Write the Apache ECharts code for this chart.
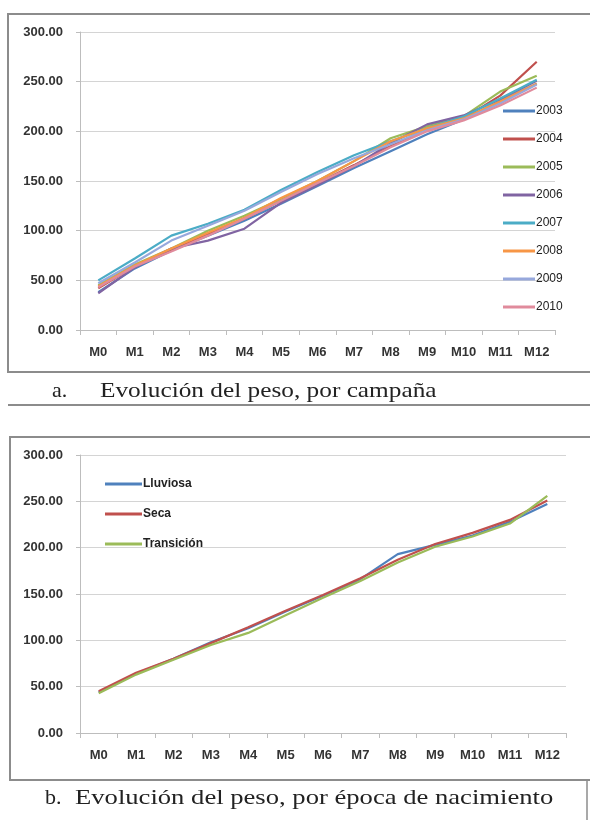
<!DOCTYPE html>
<html>
<head>
<meta charset="utf-8">
<script src="https://cdn.jsdelivr.net/npm/echarts@6/dist/echarts.min.js"></script>
<style>
  html, body { margin: 0; padding: 0; background: #fff; }
  #wrap { position: relative; width: 590px; height: 820px; overflow: hidden; }
  #chart { position: absolute; left: 0; top: 0; width: 590px; height: 820px; }
  .cap { position: absolute; font-family: "Liberation Serif", "Times New Roman", serif; font-size: 22px; color: #222; white-space: nowrap; transform-origin: left center; line-height: 24px; }
</style>
</head>
<body>
<div id="wrap">
  <div id="chart"></div>
  <div class="cap" style="left:52px; top:378px;">a.</div>
  <div class="cap" id="capA" style="left:100px; top:378px; transform: scaleX(1.15);">Evolución del peso, por campaña</div>
  <div class="cap" style="left:45px; top:785px;">b.</div>
  <div class="cap" id="capB" style="left:75px; top:785px; transform: scaleX(1.21);">Evolución del peso, por época de nacimiento</div>
</div>
<script>
// ---- data ----
const months = ['M0','M1','M2','M3','M4','M5','M6','M7','M8','M9','M10','M11','M12'];
const yTicks = [0, 50, 100, 150, 200, 250, 300];

const campaignNames = ['2003','2004','2005','2006','2007','2008','2009','2010'];
const s2003 = [38, 62, 80, 95, 110, 127, 145, 163, 180, 197, 212, 230, 248];
const s2004 = [42, 64, 80, 97, 112, 130, 148, 166, 185, 202, 213, 236, 270];
const s2005 = [45, 66, 82, 100, 115, 132, 150, 170, 193, 205, 215, 240, 256];
const s2006 = [37, 63, 82, 90, 102, 128, 146, 165, 188, 207, 216, 232, 251];
const s2007 = [50, 72, 95, 107, 121, 141, 159, 176, 190, 203, 215, 233, 252];
const s2008 = [44, 65, 82, 98, 113, 133, 150, 170, 190, 203, 213, 230, 248];
const s2009 = [47, 68, 90, 105, 120, 139, 157, 173, 187, 201, 212, 228, 247];
const s2010 = [43, 64, 79, 95, 112, 130, 148, 165, 184, 200, 211, 226, 244];
const campaignData = [s2003, s2004, s2005, s2006, s2007, s2008, s2009, s2010];

const seasonNames = ['Lluviosa','Seca','Transición'];
const lluviosa   = [44, 64, 80, 98, 113, 131, 148, 166, 193, 203, 213, 228, 247];
const seca       = [45, 65, 80, 97, 114, 132, 149, 167, 187, 204, 216, 230, 251];
const transicion = [43, 63, 79, 95, 108, 127, 146, 164, 184, 201, 212, 226, 256];
const seasonData = [lluviosa, seca, transicion];

// ---- styles ----
const campaignColors = ['#4F81BD','#C0504D','#9BBB59','#8064A2','#4BACC6','#F79646','#97A8DC','#E08B9C'];
const seasonColors = ['#4F81BD','#C0504D','#9BBB59'];
const labelFont = { fontFamily: 'Liberation Sans, Arial, sans-serif', fontWeight: 'bold', fontSize: 13, color: '#333' };

function xAxis(gi) {
  return {
    type: 'category', gridIndex: gi, data: months, boundaryGap: true,
    axisLine: { show: true, lineStyle: { color: '#bdbdbd', width: 1 } },
    axisTick: { show: true, interval: 0, length: 5, lineStyle: { color: '#bdbdbd' } },
    axisLabel: Object.assign({ interval: 0, margin: 16 }, labelFont),
    splitLine: { show: false }
  };
}
function yAxis(gi) {
  return {
    type: 'value', gridIndex: gi, min: yTicks[0], max: yTicks[yTicks.length - 1], interval: 50,
    axisLine: { show: true, lineStyle: { color: '#bdbdbd', width: 1 } },
    axisTick: { show: true, length: 4, lineStyle: { color: '#bdbdbd' } },
    axisLabel: Object.assign({ margin: 17, formatter: v => v.toFixed(2) }, labelFont),
    splitLine: { show: true, lineStyle: { color: '#d4d4d4', width: 1 } }
  };
}

const series = [];
campaignNames.forEach((n, i) => {
  series.push({
    name: n, type: 'line', xAxisIndex: 0, yAxisIndex: 0, data: campaignData[i],
    symbol: 'none', smooth: false, color: campaignColors[i],
    lineStyle: { width: 2.2, color: campaignColors[i] }, z: 2 + i
  });
});
seasonNames.forEach((n, i) => {
  series.push({
    name: n, type: 'line', xAxisIndex: 1, yAxisIndex: 1, data: seasonData[i],
    symbol: 'none', smooth: false, color: seasonColors[i],
    lineStyle: { width: 2.2, color: seasonColors[i] }, z: 2 + i
  });
});

const chart = echarts.init(document.getElementById('chart'), null, { renderer: 'canvas' });
chart.setOption({
  animation: false,
  backgroundColor: '#fff',
  grid: [
    { left: 80, top: 32, width: 475, height: 298, containLabel: false },
    { left: 80, top: 455, width: 486, height: 278, containLabel: false }
  ],
  xAxis: [xAxis(0), xAxis(1)],
  yAxis: [yAxis(0), yAxis(1)],
  legend: [
    {
      data: campaignNames, orient: 'vertical', left: 498, top: 99,
      icon: 'rect', itemWidth: 32, itemHeight: 3, itemGap: 14,
      textStyle: { fontFamily: 'Liberation Sans, Arial, sans-serif', fontSize: 12, lineHeight: 14, color: '#222', padding: [0, 0, 0, -4] },
      selectedMode: false
    },
    {
      data: seasonNames, orient: 'vertical', left: 100, top: 471,
      icon: 'rect', itemWidth: 37, itemHeight: 3, itemGap: 14,
      textStyle: { fontFamily: 'Liberation Sans, Arial, sans-serif', fontWeight: 'bold', fontSize: 12, lineHeight: 16, color: '#222', padding: [0, 0, 0, -4] },
      selectedMode: false
    }
  ],
  series: series,
  graphic: [
    { type: 'rect', shape: { x: 8, y: 14, width: 600, height: 358 }, style: { fill: 'none', stroke: '#8c8c8c', lineWidth: 2 }, silent: true, z: 0 },
    { type: 'line', shape: { x1: 8, y1: 405, x2: 590, y2: 405 }, style: { stroke: '#8c8c8c', lineWidth: 2 }, silent: true },
    { type: 'rect', shape: { x: 10, y: 437, width: 600, height: 343 }, style: { fill: 'none', stroke: '#8c8c8c', lineWidth: 2 }, silent: true, z: 0 },
    { type: 'line', shape: { x1: 587, y1: 780, x2: 587, y2: 820 }, style: { stroke: '#8c8c8c', lineWidth: 1.5 }, silent: true }
  ]
});
</script>
</body>
</html>
